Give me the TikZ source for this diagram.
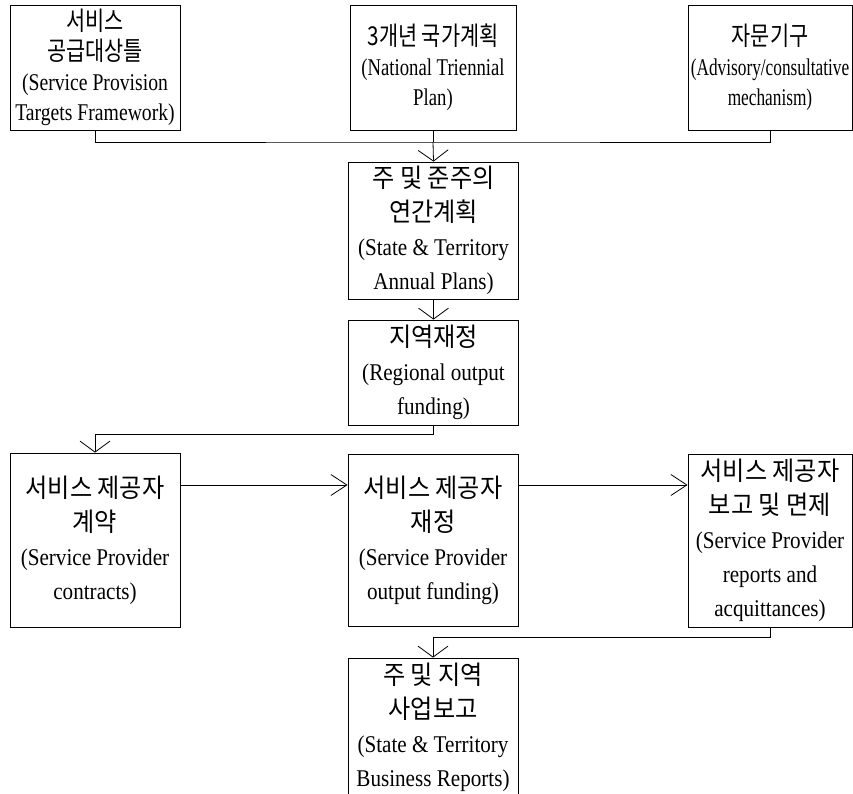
\documentclass[tikz,border=0pt]{standalone}
\usepackage{fontspec}
\setmainfont{Liberation Serif}[FakeStretch=0.88]
\newfontfamily\entop{Liberation Serif}[FakeStretch=0.78]
\newfontfamily\enframe{Liberation Serif}[FakeStretch=0.82]
\newfontfamily\enslim{Liberation Serif}[FakeStretch=0.72]
\newfontfamily\krmid{Noto Sans CJK KR}[FakeStretch=0.93]
\newfontfamily\krtop{Noto Sans CJK KR}[FakeStretch=0.8]
\newcommand\krm[1]{{\krmid\fontsize{26}{34}\selectfont #1}}
\newcommand\krt[1]{{\krtop\fontsize{26}{30}\selectfont #1}}
\usetikzlibrary{arrows.meta}

\begin{document}
\begin{tikzpicture}[x=1pt,y=-1pt,line width=0.8pt,
    topbox/.style={draw,inner sep=0pt,align=center,minimum width=166pt,minimum height=125pt,
        font=\entop\fontsize{24}{30}\selectfont},
    midbox/.style={draw,inner sep=0pt,align=center,minimum width=170pt,
        font=\fontsize{24}{34}\selectfont},
    vtip/.style={-{Straight Barb[length=11pt,width=30pt]}},
    htip/.style={-{Straight Barb[length=16pt,width=21pt]}}]
        \useasboundingbox (0,0) rectangle (853,794);
        \clip (0,0) rectangle (853,794);
        % top row
        \node[topbox,minimum width=170pt,font=\enframe\fontsize{24}{30}\selectfont] (frame) at (95,67.5) {\krt{서비스}\\\krt{공급대상틀}\\(Service Provision\\Targets Framework)};
        \node[topbox] (plan) at (433,67.5) {\krt{3개년 국가계획}\\(National Triennial\\Plan)};
        \node[topbox,minimum width=164pt,font=\enslim\fontsize{24}{30}\selectfont] (advice) at (770,67.5) {\krt{자문기구}\\(Advisory/consultative\\mechanism)};
        % middle column
        \node[midbox,minimum height=137pt] (annual) at (433.5,230.5) {\krm{주 및 준주의}\\\krm{연간계획}\\(State \& Territory\\Annual Plans)};
        \node[midbox,minimum height=105pt] (region) at (433.5,372.5) {\krm{지역재정}\\(Regional output\\funding)};
        % provider row
        \node[midbox,minimum height=174pt] (contract) at (95,540) {\krm{서비스 제공자}\\\krm{계약}\\(Service Provider\\contracts)};
        \node[midbox,minimum height=172pt] (funding) at (433,540) {\krm{서비스 제공자}\\\krm{재정}\\(Service Provider\\output funding)};
        \node[midbox,minimum width=164pt,minimum height=173pt] (report) at (770,540.5) {\krm{서비스 제공자}\\\krm{보고 및 면제}\\(Service Provider\\reports and\\acquittances)};
        \node[midbox,minimum height=139pt] (business) at (433,727.5) {\krm{주 및 지역}\\\krm{사업보고}\\(State \& Territory\\Business Reports)};
        % connectors
        \coordinate (join) at (433,142);
        \coordinate (turnA) at (95,434);
        \coordinate (hrow) at (0,485);
        \coordinate (turnB) at (433,637);
        \draw (frame.south) |- (join) -| (advice.south);
        \draw (plan.south) -- (join);
        \draw[vtip] (join) -- (annual.north);
        \draw[vtip] (annual.south) -- (region.north);
        \draw[vtip] (region.south) |- (turnA) -- (contract.north);
        \draw[htip] (contract.east |- hrow) -- (funding.west |- hrow);
        \draw[htip] (funding.east |- hrow) -- (report.west |- hrow);
        \draw[vtip] (report.south) |- (turnB) -- (business.north);
\end{tikzpicture}
\end{document}
